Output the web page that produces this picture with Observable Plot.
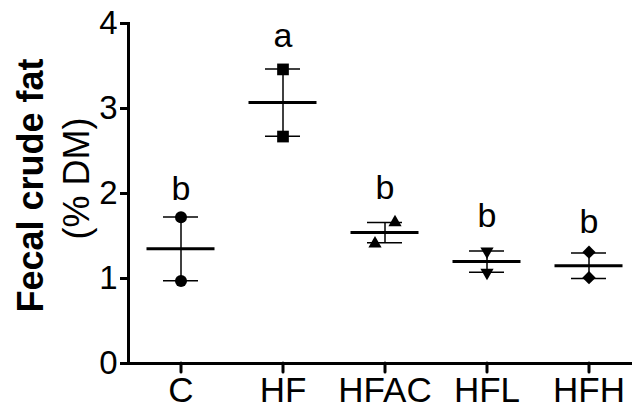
<!DOCTYPE html>
<html>
<head>
<meta charset="utf-8">
<script src="https://cdn.jsdelivr.net/npm/d3@7"></script>
<script src="https://cdn.jsdelivr.net/npm/@observablehq/plot@0.6"></script>
<style>
  html, body { margin: 0; padding: 0; background: #fff; }
  svg { display: block; }
</style>
</head>
<body>
<div id="chart"></div>
<script>
// ---- data ----
const groups   = ["C", "HF", "HFAC", "HFL", "HFH"];
const means    = [1.35, 3.07, 1.54, 1.20, 1.15];
const sems     = [0.375, 0.395, 0.12, 0.125, 0.15];
const rep1     = [0.97, 2.67, 1.41, 1.07, 1.01];   // lower replicate
const rep2     = [1.72, 3.46, 1.66, 1.32, 1.31];   // upper replicate
const letters  = ["b", "a", "b", "b", "b"];
const letterY  = [1.92, 3.72, 1.94, 1.61, 1.54];   // baseline height of significance letters
const symbols  = ["circle", "square", "triangle", "triangle", "diamond2"];
const rotates  = [0, 0, 0, 180, 0];
const yTicks   = [0, 1, 2, 3, 4];
const yLabel1  = "Fecal crude fat";
const yLabel2  = "(% DM)";

const rows = groups.map((g, i) => ({
  group: g, mean: means[i], lo: means[i] - sems[i], hi: means[i] + sems[i],
  rep1: rep1[i], rep2: rep2[i], letter: letters[i], ly: letterY[i],
  sym: symbols[i], rot: rotates[i]
}));

const symR = {circle: 6, square: 6.6, triangle: 4.9, diamond2: 6};

const dotMarks = [];
rows.forEach(r => {
  const jitter = r.group === "HFAC" ? 10 : 0;
  dotMarks.push(Plot.dot([r], {x: "group", y: "rep1", symbol: r.sym, r: symR[r.sym], rotate: r.rot, fill: "black", dx: -jitter}));
  dotMarks.push(Plot.dot([r], {x: "group", y: "rep2", symbol: r.sym, r: symR[r.sym], rotate: r.rot, fill: "black", dx: jitter}));
});

const chart = Plot.plot({
  width: 632,
  height: 411,
  marginLeft: 128,
  marginRight: 0,
  marginTop: 23,
  marginBottom: 48,
  style: {fontFamily: "'Liberation Sans', Arial, sans-serif", color: "black", background: "white"},
  x: {type: "band", domain: groups, range: [128, 640], paddingInner: 0.66, paddingOuter: 0.33, label: null},
  y: {domain: [0, 4], label: null},
  marks: [
    Plot.axisY({ticks: yTicks, tickSize: 8, tickPadding: 3, fontSize: 33, strokeWidth: 3, label: null, tickFormat: d => d}),
    Plot.axisX({tickSize: 9, tickPadding: 5, fontSize: 35, strokeWidth: 3, strokeLinecap: "round", label: null}),
    Plot.frame({anchor: "left", strokeWidth: 3, strokeLinecap: "square"}),
    Plot.frame({anchor: "bottom", strokeWidth: 3, strokeLinecap: "square"}),
    Plot.ruleX(rows, {x: "group", y1: "lo", y2: "hi", strokeWidth: 1.5}),
    Plot.tickY(rows, {x: "group", y: "lo", strokeWidth: 1.5}),
    Plot.tickY(rows, {x: "group", y: "hi", strokeWidth: 1.5}),
    Plot.tickY(rows, {x: "group", y: "mean", strokeWidth: 3, insetLeft: -16.5, insetRight: -16.5}),
    ...dotMarks,
    Plot.text(rows, {x: "group", y: "ly", text: "letter", fontSize: 34, lineAnchor: "bottom"}),
    Plot.text([yLabel1], {text: d => d, frameAnchor: "left", textAnchor: "middle", rotate: -90, dx: -97.5, dy: -8, fontSize: 36, fontWeight: "bold"}),
    Plot.text([yLabel2], {text: d => d, frameAnchor: "left", textAnchor: "middle", rotate: -90, dx: -51.5, dy: -15, fontSize: 36})
  ]
});
document.getElementById("chart").appendChild(chart);
</script>
</body>
</html>
